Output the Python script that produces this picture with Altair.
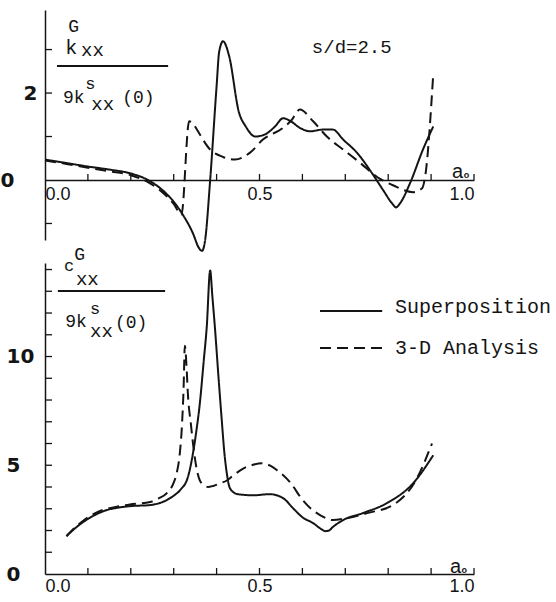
import altair as alt
import pandas as pd

INK = "#141414"
MONO = "Liberation Mono"
SANS = "Liberation Sans"

series_names = ["Superposition", "3-D Analysis"]

# ---- upper panel: k_xx^G / 9k_xx^s(0) ----
k_sup_a = [0.0, 0.05, 0.10, 0.15, 0.20, 0.24, 0.27, 0.30, 0.322, 0.345, 0.358, 0.366, 0.373,
           0.385, 0.40, 0.406, 0.415, 0.429, 0.452, 0.468, 0.49, 0.513, 0.536, 0.555, 0.573,
           0.594, 0.618, 0.648, 0.671, 0.695, 0.727, 0.762, 0.788, 0.81, 0.818, 0.828, 0.851,
           0.881, 0.905]
k_sup_v = [0.47, 0.39, 0.31, 0.24, 0.15, 0.0, -0.2, -0.5, -0.81, -1.23, -1.55, -1.63, -1.4,
           0.0, 2.16, 2.95, 3.19, 2.86, 1.56, 1.23, 1.0, 1.05, 1.23, 1.42, 1.35,
           1.2, 1.12, 1.16, 1.16, 0.93, 0.63, 0.16, -0.23, -0.55, -0.63, -0.53, -0.07,
           0.7, 1.23]

k_3d_a = [0.0, 0.05, 0.10, 0.15, 0.20, 0.24, 0.27, 0.30, 0.318, 0.336, 0.345, 0.354, 0.385,
          0.415, 0.443, 0.478, 0.508, 0.555, 0.575, 0.594, 0.625, 0.657, 0.695, 0.734, 0.774,
          0.811, 0.858, 0.879, 0.886, 0.905]
k_3d_v = [0.45, 0.37, 0.28, 0.20, 0.11, -0.05, -0.25, -0.55, -0.8, 1.35, 1.3, 1.16, 0.7,
          0.53, 0.47, 0.63, 0.93, 1.2, 1.38, 1.62, 1.35, 1.0, 0.7, 0.4, 0.07,
          -0.12, -0.28, -0.19, 0.07, 2.44]

# ---- lower panel: c_xx^G / 9k_xx^s(0) ----
c_sup_a = [0.05, 0.07, 0.089, 0.115, 0.144, 0.17, 0.198, 0.245, 0.27, 0.284, 0.30, 0.315, 0.333,
           0.345, 0.353, 0.361, 0.37, 0.377, 0.385, 0.39, 0.396, 0.405, 0.412, 0.418, 0.424,
           0.43, 0.44, 0.45, 0.485, 0.524, 0.555, 0.578, 0.60, 0.625, 0.645, 0.653, 0.662,
           0.671, 0.695, 0.741, 0.797, 0.858, 0.905]
c_sup_v = [1.74, 2.1, 2.39, 2.7, 2.94, 3.05, 3.12, 3.17, 3.28, 3.4, 3.6, 3.86, 4.45,
           5.56, 6.6, 7.86, 9.8, 11.35, 13.96, 12.8, 11.35, 8.9, 7.08, 5.6, 4.6,
           4.0, 3.75, 3.67, 3.62, 3.67, 3.49, 3.03, 2.61, 2.34, 2.05, 1.97, 2.0,
           2.16, 2.48, 2.80, 3.26, 4.17, 5.46]

c_3d_a = [0.05, 0.07, 0.089, 0.115, 0.144, 0.17, 0.198, 0.245, 0.265, 0.284, 0.30, 0.307, 0.314,
          0.319, 0.323, 0.326, 0.33, 0.333, 0.34, 0.345, 0.352, 0.361, 0.373, 0.38, 0.392,
          0.408, 0.424, 0.44, 0.462, 0.485, 0.506, 0.525, 0.541, 0.571, 0.601, 0.62, 0.641,
          0.671, 0.704, 0.751, 0.811, 0.867, 0.902]
c_3d_v = [1.74, 2.15, 2.45, 2.78, 3.0, 3.1, 3.2, 3.31, 3.48, 3.72, 4.2, 4.64, 5.5,
          6.75, 8.5, 10.5, 9.5, 8.3, 6.9, 6.0, 5.0, 4.3, 4.05, 4.0, 4.05,
          4.17, 4.3, 4.55, 4.85, 5.02, 5.09, 4.98, 4.77, 4.22, 3.39, 3.0, 2.71,
          2.48, 2.57, 2.80, 3.17, 4.40, 6.0]

# ---- axes ----
x_labels = [0.0, 0.5, 1.0]
x_ticks = [0.1, 0.2, 0.3, 0.4, 0.5, 0.6, 0.7, 0.8, 0.9, 1.0]
k_y_labels = [0, 2]
k_y_ticks = [-1, 1, 2, 3]
c_y_labels = [0, 5, 10]
c_y_ticks = list(range(1, 15))

W = 429
H_TOP = 230
H_BOT = 311
K_DOM = [-1.38, 3.91]
C_DOM = [0, 14.3]

dash_scale = alt.Scale(domain=series_names, range=[[1, 0], [11, 6]])
one_row = pd.DataFrame({"_": [0]})


def frame(a, v, s):
    return pd.DataFrame({"a": a, "v": v, "series": s})


def xscale():
    return alt.Scale(domain=[0, 1], nice=False, zero=False)


def lines(df, ydom, x_axis, y_axis):
    return alt.Chart(df).mark_line(color=INK, strokeWidth=2, interpolate="monotone").encode(
        x=alt.X("a:Q", scale=xscale(), axis=x_axis),
        y=alt.Y("v:Q", scale=alt.Scale(domain=ydom, nice=False, zero=False), axis=y_axis),
        strokeDash=alt.StrokeDash("series:N", scale=dash_scale, legend=None),
        detail="series:N",
    )


def label(text, x, y, size, font=MONO, weight="normal"):
    return alt.Chart(one_row).mark_text(
        text=text, font=font, fontSize=size, fontWeight=weight, color=INK,
        align="left", baseline="alphabetic",
    ).encode(x=alt.datum(x), y=alt.datum(y))


def hline(x1, x2, y):
    return alt.Chart(one_row).mark_rule(color=INK, strokeWidth=2).encode(
        x=alt.datum(x1), x2=alt.datum(x2), y=alt.datum(y))


def legend_line(x1, x2, y, name):
    return alt.Chart(pd.DataFrame({"series": [name]})).mark_rule(color=INK, strokeWidth=2).encode(
        x=alt.datum(x1), x2=alt.datum(x2), y=alt.datum(y),
        strokeDash=alt.StrokeDash("series:N", scale=dash_scale, legend=None))


def x_tick_rules(y0, y1):
    return alt.Chart(pd.DataFrame({"a": x_ticks})).mark_rule(color=INK, strokeWidth=1.3).encode(
        x="a:Q", y=alt.datum(y0), y2=alt.datum(y1))


def y_tick_rules(vals):
    return alt.Chart(pd.DataFrame({"v": vals})).mark_rule(color=INK, strokeWidth=1.3).encode(
        y="v:Q", x=alt.datum(0), x2=alt.datum(0.0163))


def x_axis(offset, pad):
    return alt.Axis(values=x_labels, format=".1f", ticks=False, grid=False, title=None,
                    domainColor=INK, domainWidth=1.5, labelColor=INK, labelFont=SANS,
                    labelFontSize=18, labelFlush=True, labelOverlap=False,
                    labelPadding=pad, offset=offset)


def y_axis(vals, pad):
    return alt.Axis(values=vals, format="d", ticks=False, grid=False, title=None,
                    domainColor=INK, domainWidth=1.5, labelColor=INK, labelFont="DejaVu Sans",
                    labelFontWeight="bold", labelFontSize=20, labelAlign="left",
                    labelBaseline="middle", labelPadding=pad, labelOverlap=False)


k_df = pd.concat([frame(k_sup_a, k_sup_v, series_names[0]),
                  frame(k_3d_a, k_3d_v, series_names[1])])
c_df = pd.concat([frame(c_sup_a, c_sup_v, series_names[0]),
                  frame(c_3d_a, c_3d_v, series_names[1])])

top = alt.layer(
    lines(k_df, K_DOM, x_axis(-60, 5),
          y_axis(k_y_labels, {"condition": {"test": "datum.value == 2", "value": 22}, "value": 45})),
    x_tick_rules(0, 0.14),
    y_tick_rules(k_y_ticks),
    label("G", 0.054, 3.40, 18),
    label("k", 0.047, 2.90, 20),
    label("xx", 0.084, 2.85, 19),
    hline(0.028, 0.287, 2.62),
    label("9k", 0.042, 1.77, 18),
    label("s", 0.094, 2.10, 17),
    label("xx", 0.108, 1.61, 19),
    label("(0)", 0.18, 1.77, 18),
    label("s/d=2.5", 0.622, 2.92, 19),
    label("a", 0.949, 0.05, 20, font=SANS),
    label("o", 0.976, 0.05, 9, font=SANS, weight="bold"),
).properties(width=W, height=H_TOP)

bottom = alt.layer(
    lines(c_df, C_DOM, x_axis(0, 3), y_axis(c_y_labels, 39)),
    x_tick_rules(0, 0.276),
    y_tick_rules(c_y_ticks),
    label("G", 0.068, 14.45, 18),
    label("c", 0.044, 13.93, 17),
    label("xx", 0.072, 13.29, 19),
    hline(0.03, 0.28, 13.01),
    label("9k", 0.047, 11.36, 18),
    label("s", 0.105, 11.95, 17),
    label("xx", 0.105, 10.9, 19),
    label("(0)", 0.163, 11.31, 18),
    legend_line(0.641, 0.786, 12.09, series_names[0]),
    legend_line(0.641, 0.786, 10.39, series_names[1]),
    label(series_names[0], 0.816, 12.02, 20),
    label(series_names[1], 0.816, 10.11, 20),
    label("a", 0.944, 0.05, 20, font=SANS),
    label("o", 0.971, 0.05, 9, font=SANS, weight="bold"),
).properties(width=W, height=H_BOT)

chart = alt.vconcat(top, bottom, spacing=23, bounds="flush").properties(
    padding={"left": 0, "top": 10, "right": 0, "bottom": 0},
    background="white",
).configure_view(stroke=None)

chart.save("out.html", embed_options={"renderer": "svg", "actions": False})
